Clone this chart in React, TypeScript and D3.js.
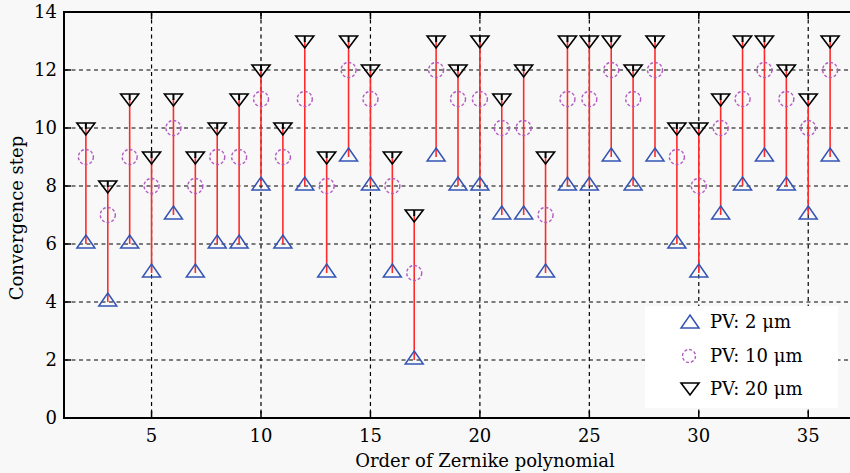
import React from "react";
import * as d3 from "d3";

const orders = [2,3,4,5,6,7,8,9,10,11,12,13,14,15,16,17,18,19,20,21,22,23,24,25,26,27,28,29,30,31,32,33,34,35,36];
const pv2 =  [6,4,6,5,7,5,6,6,8,6,8,5,9,8,5,2,9,8,8,7,7,5,8,8,9,8,9,6,5,7,8,9,8,7,9];
const pv10 = [9,7,9,8,10,8,9,9,11,9,11,8,12,11,8,5,12,11,11,10,10,7,11,11,12,11,12,9,8,10,11,12,11,10,12];
const pv20 = [10,8,11,9,11,9,10,11,12,10,13,9,13,12,9,7,13,12,13,11,12,9,13,13,13,12,13,10,10,11,13,13,12,11,13];
const xTicks = [5,10,15,20,25,30,35];
const yTicks = [0,2,4,6,8,10,12,14];
const legendLabels = ["PV: 2 \u03bcm", "PV: 10 \u03bcm", "PV: 20 \u03bcm"];

const W = 850, H = 473;
const L = 64, R = 852, T = 12, B = 418;
const FONT = "'DejaVu Serif', serif";
const BLUE = "#3454b4";
const PURPLE = "#b35cc0";
const RED = "#ff2a2a";

const upTri = "M0,-9L9,4L-9,4Z";
const downTri = "M-9,-5L9,-5L0,7Z";

export default function App() {
  const x = d3.scaleLinear().domain([1, 37]).range([L, R]);
  const y = d3.scaleLinear().domain([0, 14]).range([B, T]);
  const lg = { x: 645, y: 306, w: 193, h: 102 };
  const rows = [322, 356, 389];
  return (
    <svg width={W} height={H} style={{ position: "absolute", left: 0, top: 0 }} fontFamily={FONT}>
      <rect x={0} y={0} width={W} height={H} fill="#f8f8f8" />
      {/* grid */}
      {yTicks.filter(t => t > 0 && t < 14).map(t => (
        <line key={"gy" + t} x1={L} x2={W} y1={y(t)} y2={y(t)} stroke="#000" strokeWidth={1.2} strokeDasharray="4,3.5" />
      ))}
      {xTicks.map(t => (
        <line key={"gx" + t} x1={x(t)} x2={x(t)} y1={T} y2={B} stroke="#000" strokeWidth={1.2} strokeDasharray="4,3.5" />
      ))}
      {/* legend background */}
      <rect x={lg.x} y={lg.y} width={lg.w} height={lg.h} fill="#ffffff" />
      {/* ticks */}
      {yTicks.map(t => (
        <line key={"ty" + t} x1={L} x2={L + 7} y1={y(t)} y2={y(t)} stroke="#000" strokeWidth={1.5} />
      ))}
      {xTicks.map(t => (
        <g key={"tx" + t}>
          <line x1={x(t)} x2={x(t)} y1={B} y2={B - 7} stroke="#000" strokeWidth={1.5} />
          <line x1={x(t)} x2={x(t)} y1={T} y2={T + 7} stroke="#000" strokeWidth={1.5} />
        </g>
      ))}
      {/* frame */}
      <path d={`M${W},${T}H${L}V${B}H${W}`} fill="none" stroke="#000" strokeWidth={2} />
      {/* data */}
      {orders.map((o, i) => (
        <g key={"d" + o} transform={`translate(${x(o)},0)`}>
          <line x1={0} x2={0} y1={y(pv20[i])} y2={y(pv2[i])} stroke={RED} strokeWidth={1.6} />
          <path d={upTri} transform={`translate(0,${y(pv2[i])})`} fill="none" stroke={BLUE} strokeWidth={1.5} />
          <circle cx={0} cy={y(pv10[i])} r={7.5} fill="none" stroke={PURPLE} strokeWidth={1.4} strokeDasharray="3,2" />
          <path d={downTri} transform={`translate(0,${y(pv20[i])})`} fill="none" stroke="#000" strokeWidth={1.6} />
          <line x1={0} x2={0} y1={y(pv20[i]) - 5} y2={y(pv20[i]) + 1} stroke="#000" strokeWidth={2} />
        </g>
      ))}
      {/* tick labels */}
      {yTicks.map(t => (
        <text key={"ly" + t} x={57} y={y(t)} dy="0.35em" textAnchor="end" fontSize={18} fill="#000">{t}</text>
      ))}
      {xTicks.map(t => (
        <text key={"lx" + t} x={x(t)} y={442} textAnchor="middle" fontSize={18} fill="#000">{t}</text>
      ))}
      {/* axis labels */}
      <text x={485} y={467} textAnchor="middle" fontSize={18} fill="#000">Order of Zernike polynomial</text>
      <text transform={`translate(23,218) rotate(-90)`} textAnchor="middle" fontSize={18} fill="#000">Convergence step</text>
      {/* legend */}
      <path d={upTri} transform={`translate(690,${rows[0] + 2})`} fill="none" stroke={BLUE} strokeWidth={1.5} />
      <circle cx={689} cy={rows[1]} r={6.5} fill="none" stroke={PURPLE} strokeWidth={1.4} strokeDasharray="3,2" />
      <path d={downTri} transform={`translate(690,${rows[2] - 1})`} fill="none" stroke="#000" strokeWidth={1.6} />
      {legendLabels.map((s, i) => (
        <text key={"lg" + i} x={710} y={rows[i]} dy="0.35em" fontSize={18} fill="#000">{s}</text>
      ))}
    </svg>
  );
}
